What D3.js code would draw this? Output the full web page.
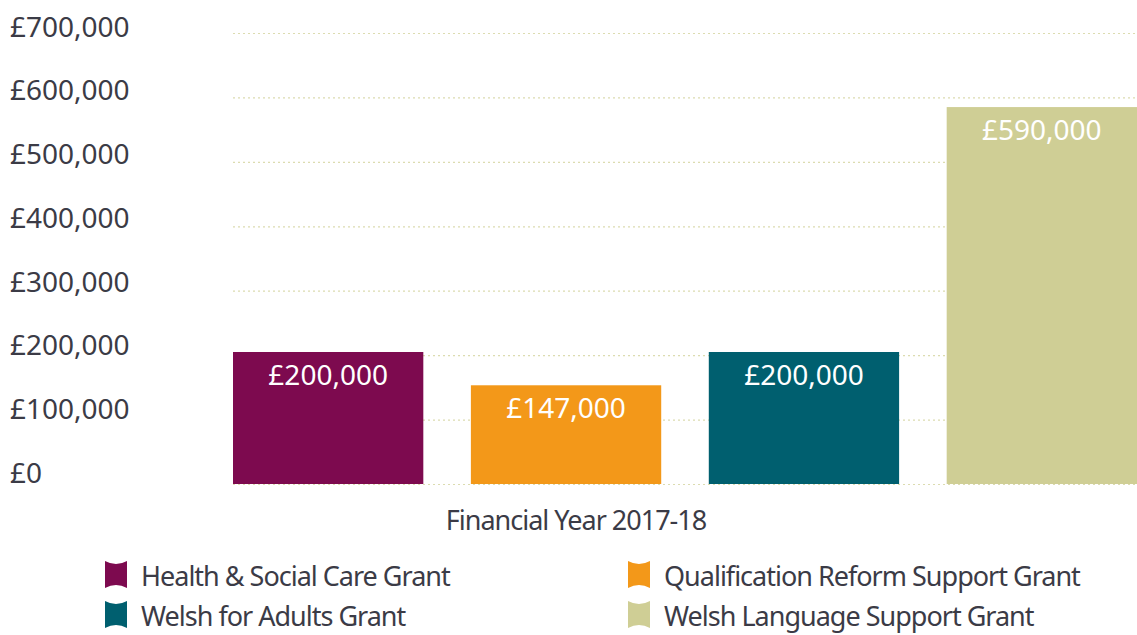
<!DOCTYPE html>
<html>
<head>
<meta charset="utf-8">
<script src="https://cdn.jsdelivr.net/npm/d3@7"></script>
<style>
  body { margin: 0; background: #fff; }
  text { font-family: "Noto Sans", "Open Sans", sans-serif; }
</style>
</head>
<body>
<svg width="1137" height="635"></svg>
<script>
var categories = ["Health & Social Care Grant", "Qualification Reform Support Grant", "Welsh for Adults Grant", "Welsh Language Support Grant"];
var values = [200000, 147000, 200000, 590000];
var colors = ["#7d0a4f", "#f39819", "#005f6f", "#cfce95"];
var yTicks = [0, 100000, 200000, 300000, 400000, 500000, 600000, 700000];
var xTitle = "Financial Year 2017-18";

var width = 1137, height = 635;
var plot = {left: 233, right: 1137, top: 33, bottom: 484};
var textColor = "#3b3b46";

var svg = d3.select("svg");

var yScale = d3.scaleLinear()
  .domain([0, 700000])
  .range([plot.bottom, plot.top]);

// bars in the original sit a few px off the grid
var yBar = d3.scaleLinear()
  .domain([0, 700000])
  .range([477.6, 38]);

var xScale = d3.scaleBand()
  .domain(categories)
  .range([plot.left, plot.right])
  .paddingInner(0.2)
  .paddingOuter(0);

var color = d3.scaleOrdinal().domain(categories).range(colors);

var fmt = function(v){ return "£" + d3.format(",")(v); };

// gridlines
svg.append("g")
  .selectAll("line")
  .data(yTicks)
  .enter()
  .append("line")
  .attr("x1", plot.left)
  .attr("x2", plot.right)
  .attr("y1", function(d){ return yScale(d) + 0.5; })
  .attr("y2", function(d){ return yScale(d) + 0.5; })
  .attr("stroke", "#dcdcb0")
  .attr("stroke-width", 1.2)
  .attr("stroke-dasharray", "2,3");

// y axis labels
svg.append("g")
  .selectAll("text")
  .data(yTicks)
  .enter()
  .append("text")
  .attr("x", 10)
  .attr("y", function(d){ return yScale(d) - 1 + d / 700000 * 4.5; })
  .attr("fill", textColor)
  .style("font-size", "28px")
  .text(fmt);

// bars
svg.append("g")
  .selectAll("rect")
  .data(values)
  .enter()
  .append("rect")
  .attr("x", function(d, i){ return xScale(categories[i]); })
  .attr("y", function(d){ return yBar(d); })
  .attr("width", xScale.bandwidth())
  .attr("height", function(d){ return yScale(0) - yBar(d); })
  .attr("fill", function(d, i){ return color(categories[i]); });

// bar labels
svg.append("g")
  .selectAll("text")
  .data(values)
  .enter()
  .append("text")
  .attr("x", function(d, i){ return xScale(categories[i]) + xScale.bandwidth() / 2; })
  .attr("y", function(d){ return yBar(d) + 33; })
  .attr("text-anchor", "middle")
  .attr("fill", "#fff")
  .style("font-size", "28px")
  .text(fmt);

// x title
svg.append("text")
  .attr("x", 576)
  .attr("y", 530)
  .attr("text-anchor", "middle")
  .attr("fill", textColor)
  .style("font-size", "27px")
  .style("letter-spacing", "-1px")
  .text(xTitle);

// legend
var legend = svg.append("g")
  .selectAll("g")
  .data(categories)
  .enter()
  .append("g")
  .attr("transform", function(d, i){
    var col = i % 2, row = Math.floor(i / 2);
    return "translate(" + (col ? 628 : 105) + "," + (561 + row * 40) + ")";
  });

legend.append("path")
  .attr("d", "M0,0 Q11,6 22,0 L22,27 Q11,21 0,27 Z")
  .attr("fill", function(d){ return color(d); });

legend.append("text")
  .attr("x", 36)
  .attr("y", 25)
  .attr("fill", textColor)
  .style("font-size", "27px")
  .style("letter-spacing", "-1px")
  .text(function(d){ return d; });
</script>
</body>
</html>
